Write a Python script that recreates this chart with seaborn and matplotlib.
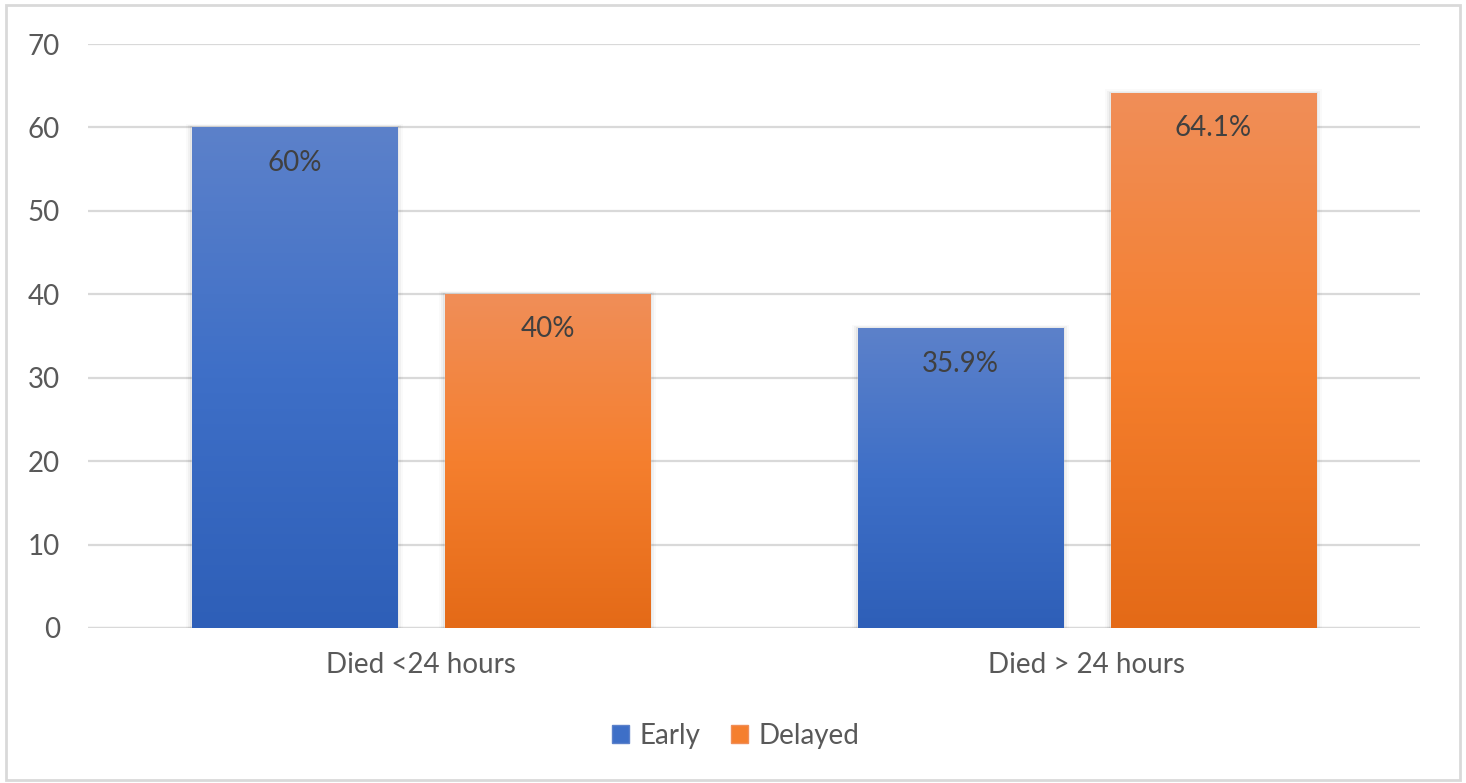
import numpy as np
import pandas as pd
import matplotlib
matplotlib.use("Agg")
import matplotlib.pyplot as plt
import seaborn as sns
from matplotlib.colors import LinearSegmentedColormap
from matplotlib.patches import Rectangle, Patch

categories = ["Died <24 hours", "Died > 24 hours"]
groups = ["Early", "Delayed"]
early = [60, 35.9]
delayed = [40, 64.1]
early_labels = ["60%", "35.9%"]
delayed_labels = ["40%", "64.1%"]

df = pd.DataFrame({
    "category": categories * 2,
    "group": [groups[0]] * 2 + [groups[1]] * 2,
    "value": early + delayed,
    "label": early_labels + delayed_labels,
})

sns.set_theme(style="white")
plt.rcParams["font.family"] = ["Lato", "DejaVu Sans"]
text_color = "#595959"
fs = 20

# gradient stops (bottom, middle, top)
grads = {
    "Early": ("#2e5fb8", "#3e6fc7", "#5c81ca"),
    "Delayed": ("#e46a17", "#f57f2e", "#f08e58"),
}

fig = plt.figure(figsize=(14.66, 7.83), dpi=100)
ax = fig.add_axes([0.060, 0.198, 0.9086, 0.7458])

sns.barplot(data=df, x="category", y="value", hue="group", hue_order=groups,
            palette=[grads[g][1] for g in groups], width=0.76, gap=0.187,
            ax=ax, legend=False, zorder=3)

# paint gradients over each bar and put the labels inside near the top
for cont, g in zip(ax.containers, groups):
    cmap = LinearSegmentedColormap.from_list(g, list(grads[g]))
    sub = df[df["group"] == g]
    for bar, lab in zip(cont, sub["label"]):
        x0 = bar.get_x()
        w = bar.get_width()
        h = bar.get_height()
        # soft shadow
        for i, a in enumerate([0.05, 0.035, 0.02]):
            ax.add_patch(Rectangle((x0 - 0.003 * (i + 1), 0), w + 0.006 * (i + 1), h + 0.15 * (i + 1),
                                   color="black", alpha=a, lw=0, zorder=2))
        grad = np.linspace(0, 1, 256).reshape(-1, 1)
        ax.imshow(grad, extent=[x0, x0 + w, 0, h], origin="lower", aspect="auto",
                  cmap=cmap, zorder=4)
        ax.annotate(lab, (x0 + w / 2, h), xytext=(0, -16), textcoords="offset points",
                    ha="center", va="top", fontsize=fs, color="#404040", zorder=5)

ax.set_ylim(0, 70)
ax.set_xlim(-0.5, 1.5)
ax.set_yticks(range(0, 71, 10))
ax.yaxis.grid(True, color="#d9d9d9", lw=1.6, zorder=0)
ax.set_axisbelow(True)
for s in ax.spines.values():
    s.set_visible(False)
ax.axhline(0, color="#d9d9d9", lw=1.6, zorder=1)
ax.tick_params(axis="y", length=0, pad=20, labelsize=fs, labelcolor=text_color)
ax.tick_params(axis="x", length=0, pad=17, labelsize=fs, labelcolor=text_color)
ax.set_xlabel("")
ax.set_ylabel("")

handles = [Patch(facecolor=grads[g][1], edgecolor=grads[g][2], label=g) for g in groups]
fig.legend(handles=handles, loc="center", bbox_to_anchor=(0.502, 0.06), ncol=2, frameon=False,
           fontsize=fs, labelcolor=text_color, handlelength=0.6, handleheight=0.6,
           handletextpad=0.4, columnspacing=1.1)

fig.patches.append(Rectangle((0.004, 0.004), 0.992, 0.99, transform=fig.transFigure,
                             fill=False, edgecolor="#d9d9d9", lw=2))

fig.savefig("out.png", dpi=100)
